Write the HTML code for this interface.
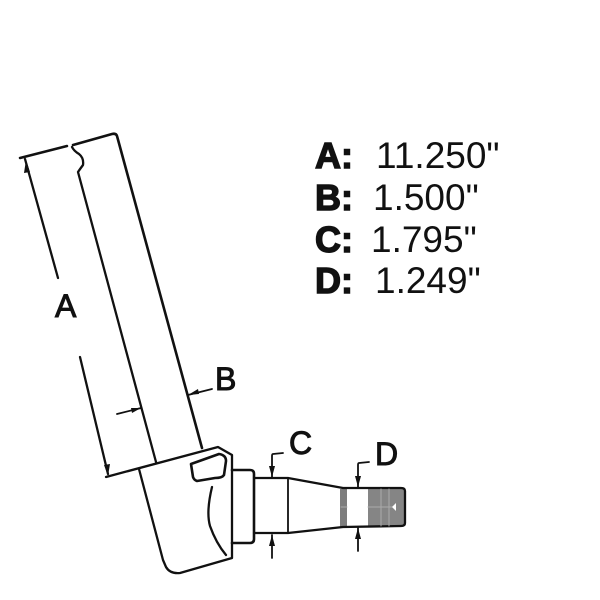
<!DOCTYPE html>
<html>
<head>
<meta charset="utf-8">
<style>
html,body{margin:0;padding:0;background:#fff;}
svg{display:block;}
text{font-family:"Liberation Sans",sans-serif;fill:#111;}
.k{font-size:36px;font-weight:bold;stroke:#111;stroke-width:1.4px;}
.v{font-size:37px;}
.l{font-size:32px;stroke:#111;stroke-width:1px;}
</style>
</head>
<body>
<svg width="600" height="600" viewBox="0 0 600 600" xmlns="http://www.w3.org/2000/svg">
<g fill="none" stroke="#111" stroke-width="2.3" stroke-linecap="round" stroke-linejoin="round">
  <!-- tube -->
  <path d="M20 158L67 146" stroke-width="2.5"/>
  <path d="M73 145L112 134Q116 133 117 136L202 448" stroke-width="2.6"/>
  <path d="M72 147Q74 151 79 154Q84 158 83 165Q80 169 78 172L156 462"/>
  <path d="M25 159L58 278"/>
  <path d="M80 357L108 474"/>
  <!-- body -->
  <path d="M106 477L218 447L232 455L232 558L180 573Q170 574 166 567L163 560L139 469"/>
  <path d="M191 464L219 454Q226 455 226 461L224 475Q222 478 215 478L197 481Q194 480 193 477Z" stroke-width="2.6"/>
  <path d="M212 487Q206 512 210 526Q216 543 226 555"/>
  <!-- collar -->
  <path d="M232 470L250 470Q254 470 254 474L254 539Q254 543 250 543L232 543" stroke-width="2.6"/>
  <!-- spindle -->
  <rect x="340" y="489" width="7" height="38" fill="#7d7d7d" stroke="none"/>
  <rect x="368" y="489" width="36" height="37" fill="#858585" stroke="none"/>
  <path d="M254 478L288 478L343 488L401 488Q405 488 405 491L405 523Q405 526 401 526L343 527L288 533L254 533"/>
  <path d="M288 478L288 533" stroke-width="1.8"/>
  <path d="M341 507L347 507M368 507L392 507M381 489L381 526M389 489L389 526" stroke="#aaa" stroke-width="1"/>
  <path d="M392 507L396 503L396 511Z" fill="#fff" stroke="none"/>
  <!-- C, D leaders -->
  <path d="M283 453L273 454Q272 454 272 456L272 477" stroke-width="1.8"/>
  <path d="M272 535L272 558" stroke-width="1.8"/>
  <path d="M369 462L359 463Q358 463 358 465L358 487" stroke-width="1.8"/>
  <path d="M358 528L358 551" stroke-width="1.8"/>
  <!-- B leaders -->
  <path d="M188 395L212 389" stroke-width="1.8"/>
  <path d="M117 414L141 408" stroke-width="1.8"/>
</g>
<!-- arrowheads -->
<g fill="#111">
  <path d="M272 477L269 466L275 466Z"/>
  <path d="M272 535L269 546L275 546Z"/>
  <path d="M358 487L355 476L361 476Z"/>
  <path d="M358 528L355 539L361 539Z"/>
  <path d="M188 395L198 389L199 394Z"/>
  <path d="M141 408L131 408L132 413Z"/>
  <path d="M26 160L30 172L24 173Z"/>
  <path d="M108 476L104 465L110 464Z"/>
</g>
<!-- labels -->
<text class="l" x="55" y="317">A</text>
<text class="l" x="215" y="390">B</text>
<text class="l" x="289" y="454">C</text>
<text class="l" x="375" y="465">D</text>
<!-- table -->
<text class="k" x="315" y="168">A:</text>
<text class="v" x="376" y="168">11.250"</text>
<text class="k" x="315" y="210">B:</text>
<text class="v" x="373" y="210">1.500"</text>
<text class="k" x="315" y="252">C:</text>
<text class="v" x="371" y="252">1.795"</text>
<text class="k" x="315" y="293">D:</text>
<text class="v" x="375" y="293">1.249"</text>
</svg>
</body>
</html>
